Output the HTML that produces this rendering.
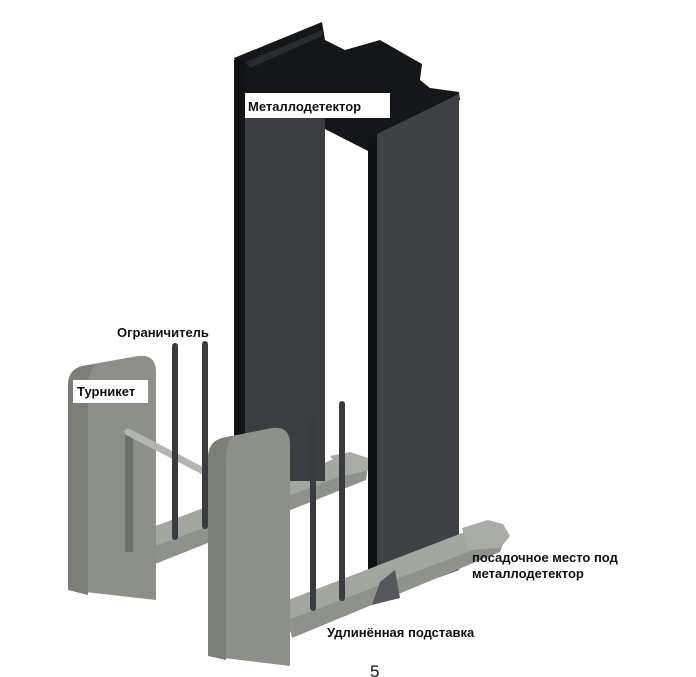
<!DOCTYPE html>
<html><head><meta charset="utf-8"><style>
html,body{margin:0;padding:0;background:#fff;width:696px;height:677px;overflow:hidden}
svg{display:block}
text{font-family:"Liberation Sans",sans-serif;font-weight:bold;font-size:13px;fill:#111}
</style></head><body>
<svg width="696" height="677" viewBox="0 0 696 677">
<!-- back base plate -->
<polygon points="150,528 345,455 363,458 368,468 150,560" fill="#a3a69e"/>
<polygon points="150,548 368,466 366,480 150,566" fill="#8f928a"/>
<polygon points="330,456 350,452 368,458 370,470 345,476" fill="#a9aca4"/>
<!-- detector top crossbar -->
<polygon points="234,58 322,22 325,40 345,50 380,40 422,64 420,80 430,88 459,92 460,100 377,135 368,140 370,152 260,96 245,93" fill="#151618"/>
<polygon points="246,62 322,30 322,36 250,68" fill="#2a2b2e"/>
<!-- left pillar -->
<rect x="234" y="60" width="11" height="420" fill="#121314"/>
<rect x="245" y="96" width="80" height="385" fill="#3c3d41"/>
<polygon points="245,90 260,96 245,100" fill="#151618"/>
<!-- right pillar -->
<polygon points="368,138 377,134 377,600 368,600" fill="#101112"/>
<polygon points="377,134 459,94 459,570 377,600" fill="#404145"/>
<!-- left turnstile -->
<path d="M68,385 Q68,370 82,366 L138,356 Q156,354 156,372 L156,600 L68,590 Z" fill="#8d9088"/>
<path d="M68,385 Q68,370 82,366 L95,364 Q88,374 88,388 L88,595 L68,590 Z" fill="#7c7f77"/>
<rect x="125" y="432" width="8" height="120" fill="#6e716a"/>
<!-- bar -->
<line x1="128" y1="432" x2="209" y2="474" stroke="#b3b5b0" stroke-width="7" stroke-linecap="round"/>
<!-- left poles -->
<line x1="175" y1="346" x2="175" y2="537" stroke="#3a3b3f" stroke-width="6" stroke-linecap="round"/>
<line x1="205" y1="344" x2="205" y2="526" stroke="#3a3b3f" stroke-width="6" stroke-linecap="round"/>
<!-- front base plate -->
<polygon points="288,600 470,530 497,528 505,540 290,632" fill="#a3a69e"/>
<polygon points="288,620 505,538 500,552 292,638" fill="#8f928a"/>
<polygon points="462,528 488,520 503,524 510,536 500,548 468,550" fill="#a9aca4"/>
<polygon points="380,582 395,570 400,598 372,605" fill="#55575a"/>
<!-- right turnstile -->
<path d="M208,458 Q208,442 222,438 L272,428 Q290,426 290,444 L290,666 L208,656 Z" fill="#8d9088"/>
<path d="M208,458 Q208,442 222,438 L232,436 Q226,446 226,460 L226,660 L208,656 Z" fill="#7c7f77"/>
<!-- right poles -->
<line x1="313" y1="420" x2="313" y2="608" stroke="#3a3b3f" stroke-width="6" stroke-linecap="round"/>
<line x1="342" y1="404" x2="342" y2="598" stroke="#3a3b3f" stroke-width="6" stroke-linecap="round"/>
<!-- labels -->
<rect x="245" y="93" width="145" height="25" fill="#fff"/>
<text x="248" y="111">Металлодетектор</text>
<text x="117" y="337">Ограничитель</text>
<rect x="73" y="380" width="75" height="23" fill="#fff"/>
<text x="77" y="396">Турникет</text>
<text x="472" y="562">посадочное место под</text>
<text x="472" y="578">металлодетектор</text>
<text x="327" y="637">Удлинённая подставка</text>
<text x="370" y="677" style="font-weight:normal;font-size:17px">5</text>
</svg>
</body></html>
